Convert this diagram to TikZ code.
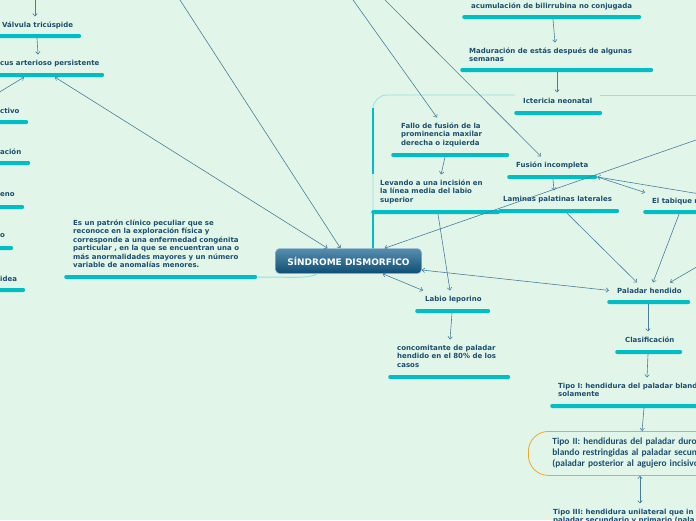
\documentclass[tikz,border=0pt]{standalone}
\usepackage{fontspec}
\setmainfont{DejaVu Sans}
\newfontfamily\boxfont{Carlito}
\usepackage{tikz}
\usetikzlibrary{arrows.meta}

\definecolor{mapbg}{RGB}{225,246,232}
\definecolor{maptext}{RGB}{28,78,112}
\definecolor{mapbar}{RGB}{0,190,196}
\definecolor{maplink}{RGB}{72,126,160}
\definecolor{mapframe}{RGB}{150,225,220}
\definecolor{maporange}{RGB}{245,166,35}
\definecolor{maptop}{RGB}{88,142,176}
\definecolor{mapbottom}{RGB}{14,78,116}

\begin{document}
\begin{tikzpicture}[
    x=1pt, y=-1pt,
    topic/.style={
        anchor=north west,
        inner xsep=0pt,
        inner ysep=5pt,
        align=left,
        text=maptext,
        font=\fontsize{7}{8.5}\selectfont\bfseries
    },
    bar/.style={
        anchor=west,
        fill=mapbar,
        rounded corners=2pt,
        inner sep=0pt,
        minimum height=4pt
    },
    link/.style={
        draw=maplink,
        line width=0.6pt,
        -{Straight Barb[length=2.5pt,width=4.5pt]}
    },
    twolink/.style={
        link,
        {Straight Barb[length=2.5pt,width=4.5pt]}-{Straight Barb[length=2.5pt,width=4.5pt]}
    }
]

\useasboundingbox (0,0) rectangle (696,520);
\clip (0,0) rectangle (696,520);
\fill[mapbg] (0,0) rectangle (696,520);

\draw[mapframe, line width=0.8pt, rounded corners=14pt] (373,213) -- (373,95) -- (515,95);
\draw[mapframe, line width=0.8pt] (600,95) -- (700,95);
\draw[mapbar, line width=2.5pt] (373,250) -- (373,212);
\draw[mapbar, line width=2.5pt] (373,174) -- (373,108);

% left column
\node[topic] (valvula) at (2,16.5) {Válvula tricúspide};
\node[bar, minimum width=85pt] (valvulabar) at (-4,36) {};
\node[topic] (ductus) at (0,54.5) {cus arterioso persistente};
\node[bar, minimum width=108pt] (ductusbar) at (-4,75) {};
\node[topic] (activo) at (0,102.5) {ctivo};
\node[bar, minimum width=32pt] (activobar) at (-4,122) {};
\node[topic] (acion) at (0,143.5) {ación};
\node[bar, minimum width=34pt] (acionbar) at (-4,163) {};
\node[topic] (eno) at (0,187.5) {eno};
\node[bar, minimum width=28pt] (enobar) at (-4,207) {};
\node[topic] (ofrag) at (0,228.5) {o};
\node[bar, minimum width=17pt] (ofragbar) at (-4,248) {};
\node[topic] (idea) at (0,270.5) {idea};
\node[bar, minimum width=29pt] (ideabar) at (-4,290) {};

\node[topic] (patron) at (73,214.5)
{Es un patrón clínico peculiar que se\\reconoce en la exploración física y\\corresponde a una enfermedad congénita\\particular , en la que se encuentran una o\\más anormalidades mayores y un número\\variable de anomalías menores.};
\node[bar, minimum width=193pt] (patronbar) at (64,277) {};

\node[draw=maptop!60!white, line width=0.5pt, top color=maptop, bottom color=mapbottom,
rounded corners=4pt, minimum width=146pt, minimum height=25pt, text=white,
font=\fontsize{9}{10}\selectfont\bfseries] (sindrome) at (348.5,261) {SÍNDROME DISMORFICO};

% middle
\node[topic] (fallo) at (401,117.5) {Fallo de fusión de la\\prominencia maxilar\\derecha o izquierda};
\node[bar, minimum width=118pt] (fallobar) at (391,155) {};
\node[topic] (levando) at (380,174.5) {Levando a una incisión en\\la línea media del labio\\superior};
\node[bar, minimum width=129pt] (levandobar) at (371,212) {};
\node[topic] (labio) at (425,290.5) {Labio leporino};
\node[bar, minimum width=75pt] (labiobar) at (415,311) {};
\node[topic] (concom) at (397,339.5) {concomitante de paladar\\hendido en el 80\% de los\\casos};
\node[bar, minimum width=122pt] (concombar) at (388,377) {};

% right
\node[topic] (acumul) at (471,-2.5) {acumulación de bilirrubina no conjugada};
\node[bar, minimum width=179pt] (acumulbar) at (462,17) {};
\node[topic] (madur) at (469,42.5) {Maduración de estás después de algunas\\semanas};
\node[bar, minimum width=193pt] (madurbar) at (460,70) {};
\node[topic] (icter) at (523,92.5) {Ictericia neonatal};
\node[bar, minimum width=88pt] (icterbar) at (514,113) {};
\node[topic] (fusion) at (516,156.5) {Fusión incompleta};
\node[bar, minimum width=90pt] (fusionbar) at (507,177) {};
\node[topic] (laminas) at (503,190.5) {Laminas palatinas laterales};
\node[bar, minimum width=121pt] (laminasbar) at (498,211) {};
\node[topic] (tabique) at (652,192.5) {El tabique n};
\node[bar, minimum width=60pt] (tabiquebar) at (643,212) {};
\node[topic] (paladar) at (617,282.5) {Paladar hendido};
\node[bar, minimum width=83pt] (paladarbar) at (607,302) {};
\node[topic] (clasif) at (625,331.5) {Clasificación};
\node[bar, minimum width=67pt] (clasifbar) at (615,352) {};
\node[topic] (tipoI) at (558,377.5) {Tipo I: hendidura del paladar blando\\solamente};
\node[bar, minimum width=150pt] (tipoIbar) at (550,406) {};
\node[draw=maporange, line width=0.8pt, rounded corners=20pt, anchor=north west,
minimum height=44pt, text width=200pt, inner xsep=24pt, align=left, text=maptext,
font=\boxfont\bfseries\fontsize{9.4}{11}\selectfont] (tipoII) at (528,431)
{Tipo II: hendiduras del paladar duro\\blando restringidas al paladar secun\\(paladar posterior al agujero incisivo};
\node[topic] (tipoIII) at (553,503.5) {Tipo III: hendidura unilateral que in\\paladar secundario y primario (pala};

\coordinate (topin) at (35,-2);
\coordinate (leftout) at (-2,93);
\coordinate (topa) at (178.7,-2);
\coordinate (topb) at (351.6,-2);
\coordinate (topc) at (383,-2);
\coordinate (righta) at (700,138.6);
\coordinate (rightb) at (700,194);
\coordinate (rightc) at (700,265);

\draw[link] (topin) -- ([xshift=33pt]valvula.north west);
\draw[link] ([xshift=41pt]valvulabar.south west) -- ([xshift=38pt]ductus.north west);
\draw[link] (leftout) -- ([xshift=28pt]ductusbar.south west);
\draw[twolink] ([xshift=59pt]ductusbar.south west) -- ([xshift=-21pt]sindrome.north);
\draw[link] (topa) -- ([xshift=-8pt]sindrome.north);
\draw[link] (topb) -- ([xshift=36pt]fallo.north west);
\draw[link] (topc) -- ([xshift=25pt]fusion.north west);
\draw[link] ([xshift=91pt]acumulbar.south west) -- ([xshift=86pt]madur.north west);
\draw[link] ([xshift=97pt]madurbar.south west) -- ([xshift=34pt]icter.north west);
\draw[link] ([xshift=54pt]fallobar.south west) -- ([xshift=61pt]levando.north west);
\draw[link] ([xshift=67pt]levandobar.south west) -- ([xshift=25pt]labio.north west);
\draw[twolink] ([xshift=-39pt]sindrome.south east) -- ([xshift=-2pt]labio.north west);
\draw[link] ([xshift=37pt]labiobar.south west) -- ([xshift=53pt]concom.north west);
\draw[link] (righta) -- ([xshift=36pt]sindrome.north);
\draw[link] (rightb) -- (fusionbar.east);
\draw[link] (fusionbar.east) -- ([xshift=-7pt]tabique.north west);
\draw[link] ([xshift=46pt]fusionbar.south west) -- ([xshift=51pt]laminas.north west);
\draw[link] ([xshift=69pt]laminasbar.south west) -- ([xshift=20pt]paladar.north west);
\draw[link] ([xshift=36pt]tabiquebar.south west) -- ([xshift=36pt]paladar.north west);
\draw[link] (rightc) -- ([xshift=53pt]paladar.north west);
\draw[twolink] ([yshift=-9pt]sindrome.east) -- ([xshift=-8pt]paladar.west);
\draw[link] ([xshift=41pt]paladarbar.south west) -- ([xshift=23pt]clasif.north west);
\draw[link] ([xshift=33pt]clasifbar.south west) -- ([xshift=89pt]tipoI.north west);
\draw[link] ([xshift=94pt]tipoIbar.south west) -- ([xshift=114pt]tipoII.north west);
\draw[twolink] ([xshift=112pt]tipoII.south west) -- ([xshift=87pt]tipoIII.north west);
\draw[mapframe, line width=1pt] (patronbar.east) .. controls +(35,0) and +(-8,5) .. ([xshift=-31pt]sindrome.south);

\end{tikzpicture}
\end{document}
